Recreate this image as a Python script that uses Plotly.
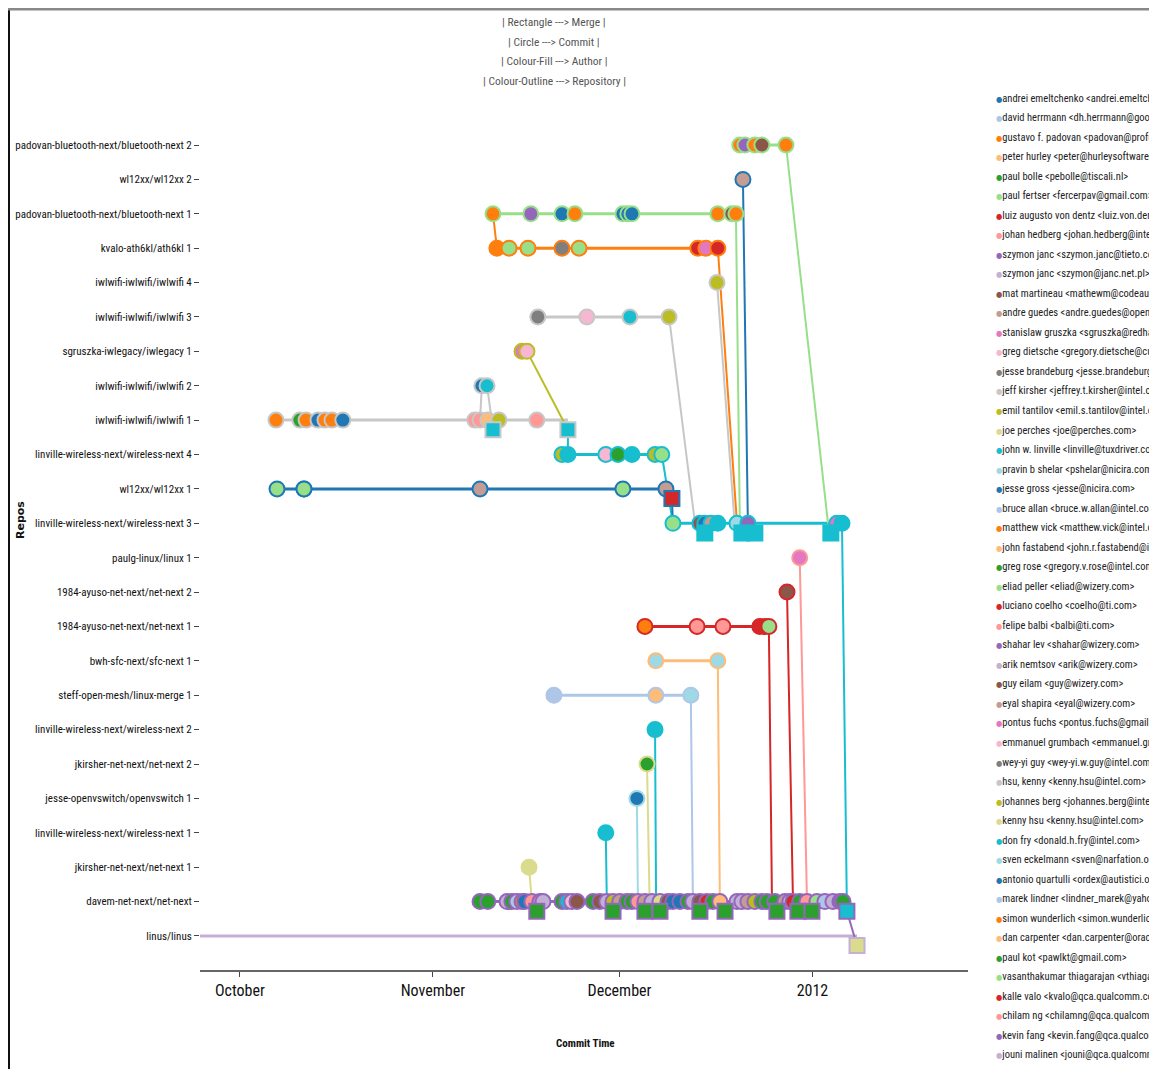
import plotly.graph_objects as go
import pandas as pd

# ---------------- data ----------------
repos = [
    "padovan-bluetooth-next/bluetooth-next 2",
    "wl12xx/wl12xx 2",
    "padovan-bluetooth-next/bluetooth-next 1",
    "kvalo-ath6kl/ath6kl 1",
    "iwlwifi-iwlwifi/iwlwifi 4",
    "iwlwifi-iwlwifi/iwlwifi 3",
    "sgruszka-iwlegacy/iwlegacy 1",
    "iwlwifi-iwlwifi/iwlwifi 2",
    "iwlwifi-iwlwifi/iwlwifi 1",
    "linville-wireless-next/wireless-next 4",
    "wl12xx/wl12xx 1",
    "linville-wireless-next/wireless-next 3",
    "paulg-linux/linux 1",
    "1984-ayuso-net-next/net-next 2",
    "1984-ayuso-net-next/net-next 1",
    "bwh-sfc-next/sfc-next 1",
    "steff-open-mesh/linux-merge 1",
    "linville-wireless-next/wireless-next 2",
    "jkirsher-net-next/net-next 2",
    "jesse-openvswitch/openvswitch 1",
    "linville-wireless-next/wireless-next 1",
    "jkirsher-net-next/net-next 1",
    "davem-net-next/net-next",
    "linus/linus",
]

repo_colors = [
    "#98df8a", "#1f77b4", "#98df8a", "#ff7f0e", "#c7c7c7", "#c7c7c7",
    "#bcbd22", "#c7c7c7", "#c7c7c7", "#17becf", "#1f77b4", "#17becf",
    "#ff9896", "#d62728", "#d62728", "#ffbb78", "#aec7e8", "#17becf",
    "#dbdb8d", "#9edae5", "#17becf", "#dbdb8d", "#9467bd", "#c5b0d5",
]

authors = [
    "andrei emeltchenko <andrei.emeltchenko@intel.com>",
    "david herrmann <dh.herrmann@googlemail.com>",
    "gustavo f. padovan <padovan@profusion.mobi>",
    "peter hurley <peter@hurleysoftware.com>",
    "paul bolle <pebolle@tiscali.nl>",
    "paul fertser <fercerpav@gmail.com>",
    "luiz augusto von dentz <luiz.von.dentz@intel.com>",
    "johan hedberg <johan.hedberg@intel.com>",
    "szymon janc <szymon.janc@tieto.com>",
    "szymon janc <szymon@janc.net.pl>",
    "mat martineau <mathewm@codeaurora.org>",
    "andre guedes <andre.guedes@openbossa.org>",
    "stanislaw gruszka <sgruszka@redhat.com>",
    "greg dietsche <gregory.dietsche@cuw.edu>",
    "jesse brandeburg <jesse.brandeburg@intel.com>",
    "jeff kirsher <jeffrey.t.kirsher@intel.com>",
    "emil tantilov <emil.s.tantilov@intel.com>",
    "joe perches <joe@perches.com>",
    "john w. linville <linville@tuxdriver.com>",
    "pravin b shelar <pshelar@nicira.com>",
    "jesse gross <jesse@nicira.com>",
    "bruce allan <bruce.w.allan@intel.com>",
    "matthew vick <matthew.vick@intel.com>",
    "john fastabend <john.r.fastabend@intel.com>",
    "greg rose <gregory.v.rose@intel.com>",
    "eliad peller <eliad@wizery.com>",
    "luciano coelho <coelho@ti.com>",
    "felipe balbi <balbi@ti.com>",
    "shahar lev <shahar@wizery.com>",
    "arik nemtsov <arik@wizery.com>",
    "guy eilam <guy@wizery.com>",
    "eyal shapira <eyal@wizery.com>",
    "pontus fuchs <pontus.fuchs@gmail.com>",
    "emmanuel grumbach <emmanuel.grumbach@intel.com>",
    "wey-yi guy <wey-yi.w.guy@intel.com>",
    "hsu, kenny <kenny.hsu@intel.com>",
    "johannes berg <johannes.berg@intel.com>",
    "kenny hsu <kenny.hsu@intel.com>",
    "don fry <donald.h.fry@intel.com>",
    "sven eckelmann <sven@narfation.org>",
    "antonio quartulli <ordex@autistici.org>",
    "marek lindner <lindner_marek@yahoo.de>",
    "simon wunderlich <simon.wunderlich@s2003.tu-chemnitz.de>",
    "dan carpenter <dan.carpenter@oracle.com>",
    "paul kot <pawlkt@gmail.com>",
    "vasanthakumar thiagarajan <vthiagar@qca.qualcomm.com>",
    "kalle valo <kvalo@qca.qualcomm.com>",
    "chilam ng <chilamng@qca.qualcomm.com>",
    "kevin fang <kevin.fang@qca.qualcomm.com>",
    "jouni malinen <jouni@qca.qualcomm.com>",
]

palette = ["#1f77b4", "#aec7e8", "#ff7f0e", "#ffbb78", "#2ca02c", "#98df8a",
           "#d62728", "#ff9896", "#9467bd", "#c5b0d5", "#8c564b", "#c49c94",
           "#e377c2", "#f7b6d2", "#7f7f7f", "#c7c7c7", "#bcbd22", "#dbdb8d",
           "#17becf", "#9edae5"]

# commits per repo row (time, author index)
commit_times = [
    ["2011-12-20 08:00", "2011-12-21 04:00", "2011-12-22 18:00", "2011-12-23 21:00", "2011-12-27 18:00"],
    ["2011-12-20 20:00"],
    ["2011-11-10 16:00", "2011-11-16 18:00", "2011-11-21 18:00", "2011-11-23 20:00", "2011-12-01 13:00",
     "2011-12-02 08:00", "2011-12-03 00:00", "2011-12-16 19:00", "2011-12-19 01:00", "2011-12-19 17:00"],
    ["2011-11-11 07:00", "2011-11-13 06:00", "2011-11-16 07:00", "2011-11-21 18:00", "2011-11-24 12:00",
     "2011-12-13 14:00", "2011-12-14 21:00", "2011-12-16 19:00"],
    ["2011-12-16 16:00"],
    ["2011-11-17 21:00", "2011-11-25 18:00", "2011-12-02 16:00", "2011-12-08 23:00"],
    ["2011-11-15 08:00", "2011-11-16 03:00"],
    ["2011-11-08 21:00", "2011-11-09 17:00"],
    ["2011-10-06 19:00", "2011-10-10 15:00", "2011-10-11 15:00", "2011-10-13 13:00", "2011-10-14 16:00",
     "2011-10-15 19:00", "2011-10-17 13:00", "2011-11-07 18:00", "2011-11-08 14:00", "2011-11-09 20:00",
     "2011-11-11 15:00", "2011-11-17 17:00"],
    ["2011-11-21 18:00", "2011-11-22 17:00", "2011-11-28 19:00", "2011-11-30 18:00", "2011-12-03 00:00",
     "2011-12-06 17:00", "2011-12-07 19:00"],
    ["2011-10-06 23:00", "2011-10-11 07:00", "2011-10-11 07:00", "2011-11-08 14:00", "2011-12-01 13:00",
     "2011-12-08 11:00"],
    ["2011-12-09 14:00", "2011-12-13 22:00", "2011-12-14 17:00", "2011-12-15 17:00", "2011-12-16 19:00",
     "2011-12-19 21:00", "2011-12-21 15:00", "2012-01-04 22:00", "2012-01-05 18:00"],
    ["2011-12-29 23:00"],
    ["2011-12-27 22:00"],
    ["2011-12-05 02:00", "2011-12-13 11:00", "2011-12-17 15:00", "2011-12-23 13:00", "2011-12-24 09:00",
     "2011-12-25 00:00"],
    ["2011-12-06 20:00", "2011-12-16 19:00"],
    ["2011-11-20 11:00", "2011-12-06 20:00", "2011-12-12 11:00"],
    ["2011-12-06 17:00"],
    ["2011-12-05 10:00"],
    ["2011-12-03 19:00"],
    ["2011-11-28 19:00"],
    ["2011-11-16 11:00"],
    ["2011-11-08 14:00", "2011-11-09 20:00", "2011-11-12 22:00", "2011-11-13 17:00", "2011-11-14 12:00",
     "2011-11-15 08:00", "2011-11-15 19:00", "2011-11-16 22:00", "2011-11-18 05:00", "2011-11-18 17:00",
     "2011-11-21 18:00", "2011-11-22 13:00", "2011-11-23 08:00", "2011-11-24 04:00", "2011-11-26 18:00",
     "2011-11-27 20:00", "2011-11-28 23:00", "2011-11-29 23:00", "2011-12-01 01:00", "2011-12-02 05:00",
     "2011-12-03 00:00", "2011-12-03 23:00", "2011-12-05 02:00", "2011-12-06 05:00", "2011-12-07 12:00",
     "2011-12-08 19:00", "2011-12-09 14:00", "2011-12-10 17:00", "2011-12-12 00:00", "2011-12-12 19:00",
     "2011-12-13 22:00", "2011-12-15 01:00", "2011-12-16 00:00", "2011-12-17 03:00", "2011-12-19 21:00",
     "2011-12-20 16:00", "2011-12-21 15:00", "2011-12-22 18:00", "2011-12-23 21:00", "2011-12-24 17:00",
     "2011-12-25 23:00", "2011-12-27 14:00", "2011-12-28 09:00", "2011-12-28 21:00", "2011-12-29 23:00",
     "2011-12-31 03:00", "2012-01-01 17:00", "2012-01-03 00:00", "2012-01-04 07:00", "2012-01-05 10:00",
     "2012-01-05 22:00"],
    ["2011-09-20 00:00"],
]

commit_authors = [
    [2, 8, 2, 10, 2],
    [11],
    [2, 8, 0, 2, 0, 0, 0, 2, 10, 2],
    [22, 45, 45, 14, 45, 46, 32, 46],
    [36],
    [34, 33, 38, 36],
    [12, 13],
    [20, 38],
    [22, 24, 22, 20, 22, 22, 20, 7, 7, 23, 36, 27],
    [36, 18, 13, 4, 18, 36, 25],
    [25, 26, 25, 31, 25, 31],
    [25, 10, 0, 11, 18, 19, 8, 32, 18],
    [32],
    [30],
    [22, 27, 27, 6, 6, 5],
    [39, 39],
    [41, 43, 39],
    [18],
    [24],
    [20],
    [18],
    [17],
    [24, 44, 49, 24, 21, 42, 40, 47, 12, 29, 24, 38, 33, 30, 24, 30, 49, 16, 31, 24,
     44, 47, 31, 29, 17, 30, 40, 0, 24, 49, 30, 26, 24, 23, 29, 49, 31, 16, 24, 44,
     24, 31, 41, 26, 24, 47, 45, 41, 49, 48, 24],
    [17],
]

# merges per repo row (time, author index)
merge_times = [
    [], [], [], [], [], [], [], [],
    ["2011-11-10 16:00", "2011-11-22 17:00"],
    [],
    ["2011-12-09 10:00"],
    ["2011-12-14 17:00", "2011-12-20 16:00", "2011-12-22 18:00", "2012-01-03 23:00"],
    [], [], [], [], [], [], [], [], [], [],
    ["2011-11-17 17:00", "2011-11-29 23:00", "2011-12-05 02:00", "2011-12-07 12:00", "2011-12-13 22:00",
     "2011-12-17 23:00", "2011-12-26 07:00", "2011-12-29 16:00", "2011-12-31 22:00", "2012-01-06 13:00"],
    ["2012-01-08 04:00"],
]

merge_authors = [
    [], [], [], [], [], [], [], [],
    [18, 18],
    [],
    [26],
    [18, 18, 18, 18],
    [], [], [], [], [], [], [], [], [], [],
    [24, 24, 24, 24, 24, 24, 24, 24, 24, 18],
    [17],
]

# links between branches
link_from_repo = [8, 7, 6, 2, 8, 9, 10, 5, 4, 3, 2, 1, 0, 11, 12, 13, 14, 15, 16, 17, 18, 19, 20, 21, 22]
link_from_time = ["2011-11-08 14:00", "2011-11-09 17:00", "2011-11-16 03:00", "2011-11-10 16:00",
                  "2011-11-22 17:00", "2011-12-07 19:00", "2011-12-09 10:00", "2011-12-08 23:00",
                  "2011-12-16 16:00", "2011-12-16 19:00", "2011-12-19 17:00", "2011-12-20 20:00",
                  "2011-12-27 18:00", "2012-01-05 18:00", "2011-12-29 23:00", "2011-12-27 22:00",
                  "2011-12-25 00:00", "2011-12-16 19:00", "2011-12-12 11:00", "2011-12-06 17:00",
                  "2011-12-05 10:00", "2011-12-03 19:00", "2011-11-28 19:00", "2011-11-16 11:00",
                  "2012-01-06 13:00"]
link_from_merge = [False, False, False, False, True, False, True, False, False, False, False, False,
                   False, False, False, False, False, False, False, False, False, False, False, False, True]
link_to_repo = [7, 8, 8, 3, 9, 11, 11, 11, 11, 11, 11, 11, 11, 22, 22, 22, 22, 22, 22, 22, 22, 22, 22, 22, 23]
link_to_time = ["2011-11-08 21:00", "2011-11-10 16:00", "2011-11-22 17:00", "2011-11-11 07:00",
                "2011-11-22 17:00", "2011-12-09 14:00", "2011-12-09 14:00", "2011-12-13 03:00",
                "2011-12-19 12:00", "2011-12-19 21:00", "2011-12-20 08:00", "2011-12-21 15:00",
                "2012-01-03 12:00", "2012-01-06 13:00", "2011-12-31 03:00", "2011-12-28 21:00",
                "2011-12-25 12:00", "2011-12-17 03:00", "2011-12-12 19:00", "2011-12-06 21:00",
                "2011-12-05 20:00", "2011-12-03 23:00", "2011-11-28 23:00", "2011-11-16 22:00",
                "2012-01-08 04:00"]
link_to_merge = [False, True, True, False, False, False, False, False, False, False, False, False,
                 False, True, False, False, False, False, False, False, False, False, False, False, True]
link_color_repo = [7, 7, 6, 3, 9, 9, 10, 5, 4, 3, 2, 1, 0, 11, 12, 13, 14, 15, 16, 17, 18, 19, 20, 21, 22]

# ---------------- figure ----------------
W, H = 1141, 1061
MERGE_DY = 0.28
FONT = "Roboto Condensed, DejaVu Sans Condensed, sans-serif"


def ypos(r, is_merge):
    return r + (MERGE_DY if is_merge else 0)


fig = go.Figure()

# repo lanes
for r in range(len(repos)):
    ts = sorted(pd.to_datetime(commit_times[r] + merge_times[r]))
    if not ts:
        continue
    fig.add_trace(go.Scatter(x=[ts[0], ts[-1]], y=[r, r], mode="lines",
                             line=dict(color=repo_colors[r], width=3), hoverinfo="skip"))

# links
for i in range(len(link_from_repo)):
    fig.add_trace(go.Scatter(
        x=[pd.Timestamp(link_from_time[i]), pd.Timestamp(link_to_time[i])],
        y=[ypos(link_from_repo[i], link_from_merge[i]), ypos(link_to_repo[i], link_to_merge[i])],
        mode="lines", line=dict(color=repo_colors[link_color_repo[i]], width=2), hoverinfo="skip"))

# commits
cx, cy, cf, co, ct = [], [], [], [], []
for r in range(len(repos)):
    for t, a in zip(commit_times[r], commit_authors[r]):
        cx.append(pd.Timestamp(t))
        cy.append(r)
        cf.append(palette[a % 20])
        co.append(repo_colors[r])
        ct.append(authors[a])
fig.add_trace(go.Scatter(x=cx, y=cy, mode="markers", text=ct,
                         marker=dict(symbol="circle", size=15, color=cf,
                                     line=dict(color=co, width=2))))

# merges
mx, my, mf, mo = [], [], [], []
for r in range(len(repos)):
    for t, a in zip(merge_times[r], merge_authors[r]):
        mx.append(pd.Timestamp(t))
        my.append(ypos(r, True))
        mf.append(palette[a % 20])
        mo.append(repo_colors[r])
fig.add_trace(go.Scatter(x=mx, y=my, mode="markers",
                         marker=dict(symbol="square", size=15, color=mf,
                                     line=dict(color=mo, width=2))))

annotations = []
# header lines
header = ["| Rectangle ---> Merge |", "| Circle ---> Commit |",
          "| Colour-Fill ---> Author |", "| Colour-Outline ---> Repository |"]
for i, h in enumerate(header):
    annotations.append(dict(xref="paper", yref="paper", x=546 / W, y=1 - (14 + 19.6 * i) / H,
                            xanchor="center", yanchor="middle", text=h, showarrow=False,
                            font=dict(size=11.5, color="#555", family=FONT)))
# axis titles
annotations.append(dict(xref="paper", yref="paper", x=12 / W, y=1 - 512 / H, text="<b>Repos</b>",
                        textangle=-90, showarrow=False, xanchor="center", yanchor="middle",
                        font=dict(size=11, color="#111", family="DejaVu Sans")))
annotations.append(dict(xref="paper", yref="paper", x=577 / W, y=1 - 1035 / H, text="<b>Commit Time</b>",
                        showarrow=False, xanchor="center", yanchor="middle",
                        font=dict(size=11, color="#111", family=FONT)))
# author legend
for i, a in enumerate(authors):
    name = a.replace("&", "&amp;").replace("<", "&lt;").replace(">", "&gt;")
    annotations.append(dict(
        xref="paper", yref="paper", x=986 / W, y=1 - (90 + 19.53 * i) / H,
        xanchor="left", yanchor="middle", showarrow=False,
        text=f'<span style="color:{palette[i % 20]};font-size:8px">●</span>{name}',
        font=dict(size=10.5, color="#222", family=FONT)))

fig.update_layout(
    width=W, height=H, margin=dict(l=0, r=0, t=0, b=0, autoexpand=False),
    paper_bgcolor="white", plot_bgcolor="white", showlegend=False,
    font=dict(family=FONT, color="#111"),
    xaxis=dict(type="date", range=["2011-09-24 14:00", "2012-01-26 00:00"],
               domain=[192 / W, 960 / W], automargin=False,
               tickvals=["2011-10-01", "2011-11-01", "2011-12-01", "2012-01-01"],
               ticktext=["October", "November", "December", "2012"],
               ticks="outside", ticklen=5, tickcolor="#444",
               showline=True, linecolor="#666", linewidth=2,
               showgrid=False, zeroline=False, tickfont=dict(size=16, color="#111")),
    yaxis=dict(range=[23.99, -3.984], domain=[99 / H, 1], automargin=False,
               tickvals=list(range(len(repos))), ticktext=repos,
               ticks="outside", ticklen=5, tickcolor="#444",
               showline=False, showgrid=False, zeroline=False,
               tickfont=dict(size=11, color="#111")),
    annotations=annotations,
    shapes=[
        dict(type="line", xref="paper", yref="paper", x0=1 / W, x1=1 / W, y0=0, y1=1,
             line=dict(color="#111", width=2)),
        dict(type="line", xref="paper", yref="paper", x0=0, x1=1, y0=1 - 1 / H, y1=1 - 1 / H,
             line=dict(color="#888", width=3)),
    ],
)

fig.write_html("out.html")
